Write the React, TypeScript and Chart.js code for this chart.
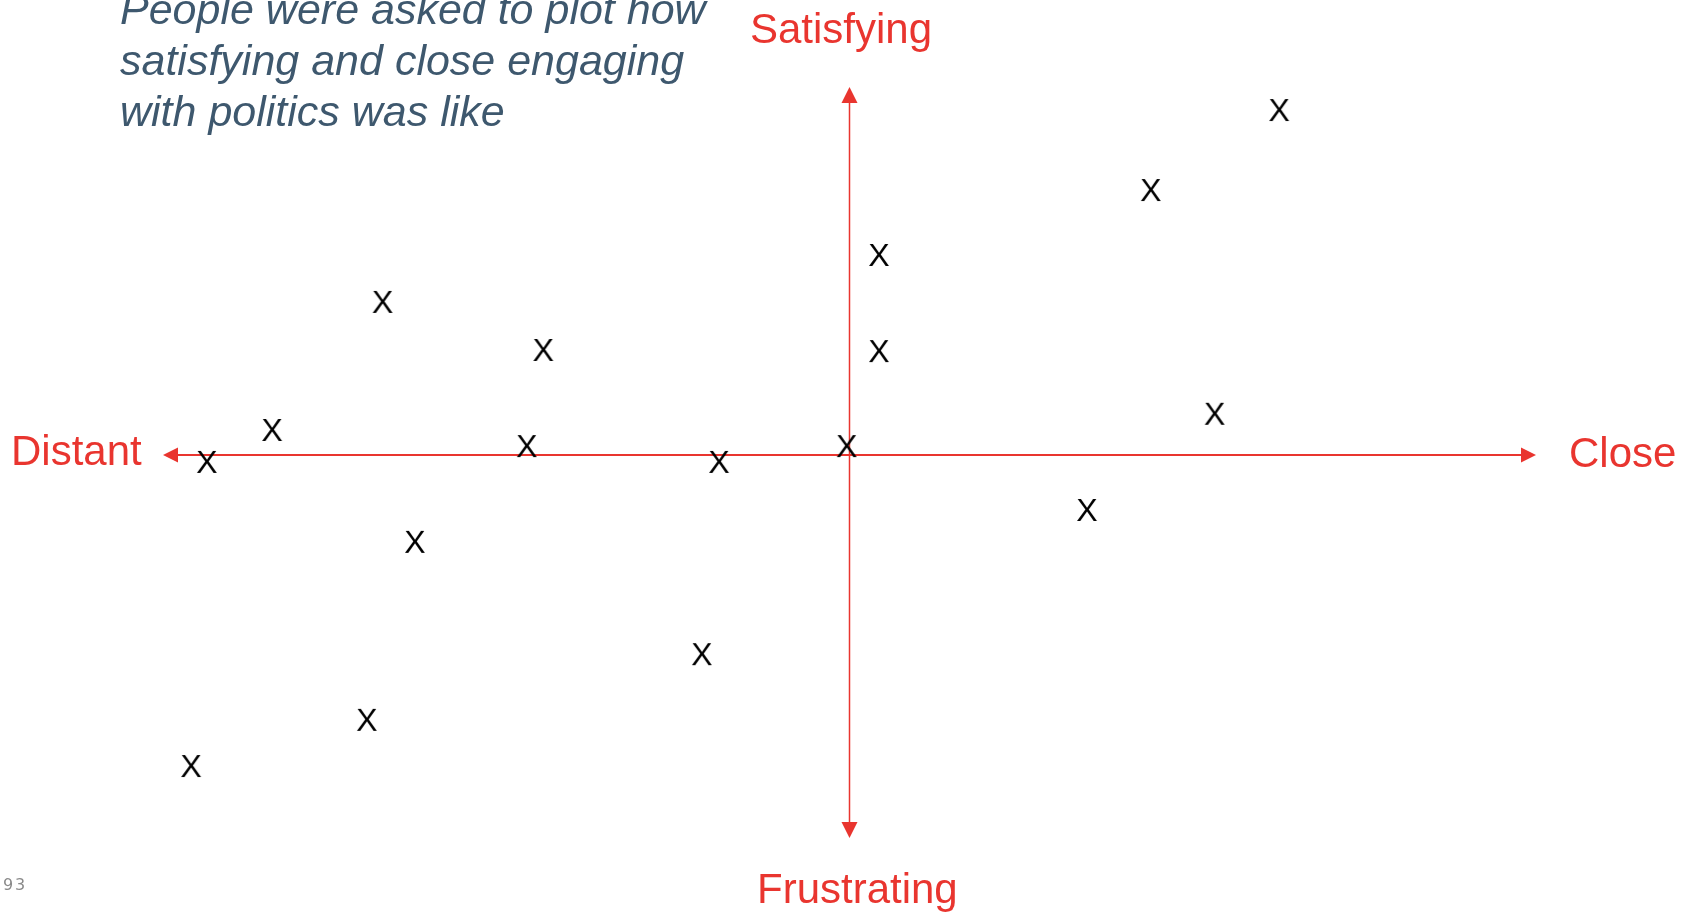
import { useEffect, useRef } from "react";
import { Chart, registerables } from "chart.js";

Chart.register(...registerables);

// How close (x: Distant → Close) and how satisfying (y: Frustrating → Satisfying)
// each respondent found engaging with politics.
const closeness = [6.26, 4.39, 0.43, -6.8, -4.46, 0.43, -8.41, 5.32, -9.36, -4.7, -1.9, -0.04, 3.46, -6.33, -2.15, -7.03, -9.59];
const satisfaction = [9.16, 7.03, 5.3, 4.05, 2.77, 2.74, 0.64, 1.07, -0.21, 0.21, -0.21, 0.21, -1.49, -2.34, -5.33, -7.08, -8.31];

const X_LABEL_NEG = "Distant";
const X_LABEL_POS = "Close";
const Y_LABEL_POS = "Satisfying";
const Y_LABEL_NEG = "Frustrating";
const captionLines = [
  "People were asked to plot how",
  "satisfying and close engaging",
  "with politics was like",
];
const pageNumber = "93";

const RED = "rgb(233,53,47)";
const CAPTION = "rgb(62,88,110)";
const SANS = '"Liberation Sans", Arial, Helvetica, sans-serif';

// A hand-written "X" used as the marker for each answer
function makeXMarker(): HTMLCanvasElement {
  const c = document.createElement("canvas");
  c.width = 30;
  c.height = 30;
  const g = c.getContext("2d")!;
  g.fillStyle = "#000";
  g.font = `32px ${SANS}`;
  g.textAlign = "center";
  g.textBaseline = "alphabetic";
  g.fillText("X", 15, 15 + 10);
  return c;
}

const quadrantPlugin = {
  id: "quadrantAxes",
  beforeDatasetsDraw(chart: Chart) {
    const { ctx, chartArea } = chart;
    const { left, right, top, bottom } = chartArea;
    const xs = chart.scales.x;
    const ys = chart.scales.y;
    const x0 = xs.getPixelForValue(0);
    const y0 = ys.getPixelForValue(0);

    ctx.save();
    ctx.strokeStyle = RED;
    ctx.fillStyle = RED;

    // horizontal axis
    ctx.lineWidth = 2;
    ctx.beginPath();
    ctx.moveTo(left + 10, y0);
    ctx.lineTo(right - 10, y0);
    ctx.stroke();

    // vertical axis
    ctx.lineWidth = 1.5;
    ctx.beginPath();
    ctx.moveTo(x0, top + 10);
    ctx.lineTo(x0, bottom - 10);
    ctx.stroke();

    const tri = (pts: number[][]) => {
      ctx.beginPath();
      ctx.moveTo(pts[0][0], pts[0][1]);
      ctx.lineTo(pts[1][0], pts[1][1]);
      ctx.lineTo(pts[2][0], pts[2][1]);
      ctx.closePath();
      ctx.fill();
    };
    tri([[left, y0], [left + 15, y0 - 7.5], [left + 15, y0 + 7.5]]);
    tri([[right, y0], [right - 15, y0 - 7.5], [right - 15, y0 + 7.5]]);
    tri([[x0, top], [x0 - 8, top + 16], [x0 + 8, top + 16]]);
    tri([[x0, bottom], [x0 - 8, bottom - 16], [x0 + 8, bottom - 16]]);

    // axis end labels
    ctx.font = `42px ${SANS}`;
    ctx.textBaseline = "alphabetic";
    ctx.textAlign = "left";
    ctx.fillText(Y_LABEL_POS, 750, 43);
    ctx.fillText(Y_LABEL_NEG, 757, 903);
    ctx.fillText(X_LABEL_NEG, 11, 465);
    ctx.fillText(X_LABEL_POS, 1569, 467);

    // caption
    ctx.fillStyle = CAPTION;
    ctx.font = `italic 43px ${SANS}`;
    const baselines = [24, 75, 126];
    captionLines.forEach((line, i) => ctx.fillText(line, 120, baselines[i]));

    // slide number
    ctx.fillStyle = "#8a8a8a";
    ctx.font = '16px "DejaVu Sans", sans-serif';
    pageNumber.split("").forEach((ch, i) => ctx.fillText(ch, 3 + i * 12, 890));

    ctx.restore();
  },
};

export default function App() {
  const canvasRef = useRef<HTMLCanvasElement | null>(null);

  useEffect(() => {
    document.body.style.margin = "0";
    const canvas = canvasRef.current;
    if (!canvas) return;
    const marker = makeXMarker();

    const chart = new Chart(canvas, {
      type: "scatter",
      data: {
        datasets: [
          {
            data: closeness.map((x, i) => ({ x, y: satisfaction[i] })),
            pointStyle: marker,
            pointRadius: 12,
            showLine: false,
          },
        ],
      },
      options: {
        animation: false,
        responsive: false,
        events: [],
        layout: { padding: { left: 163, right: 156, top: 87, bottom: 74 } },
        plugins: {
          legend: { display: false },
          tooltip: { enabled: false },
        },
        scales: {
          x: { type: "linear", min: -10, max: 10, display: false },
          y: { type: "linear", min: -10.2, max: 9.8, display: false },
        },
      },
      plugins: [quadrantPlugin],
    });

    return () => chart.destroy();
  }, []);

  return (
    <div style={{ width: 1692, height: 912, background: "#fff" }}>
      <canvas ref={canvasRef} width={1692} height={912} style={{ display: "block" }} />
    </div>
  );
}
